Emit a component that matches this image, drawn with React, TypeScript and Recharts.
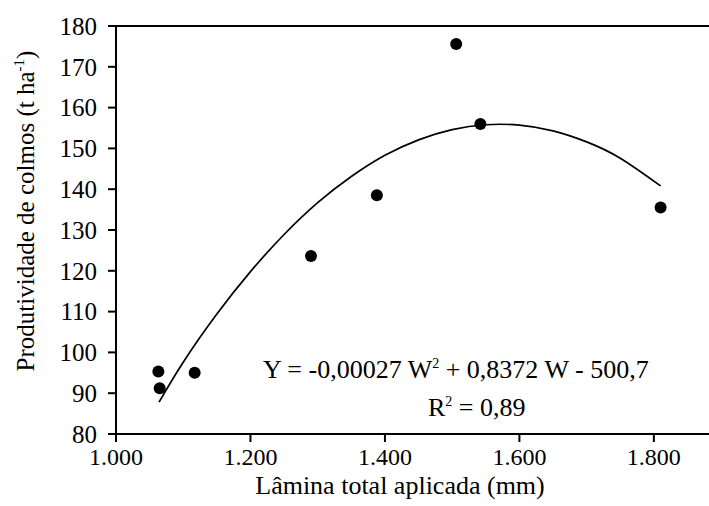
import React from 'react';
import { ComposedChart, Line, Scatter, XAxis, YAxis, ReferenceLine } from 'recharts';

// Observed points: Lâmina total aplicada (mm) vs Produtividade de colmos (t ha-1)
const obsLamina = [1063, 1065, 1117, 1290, 1388, 1506, 1542, 1810];
const obsProd = [95.3, 91.2, 95.0, 123.6, 138.5, 175.6, 156.0, 135.5];

// Fitted curve
const fitLamina = [1064, 1100, 1150, 1200, 1250, 1300, 1350, 1400, 1450, 1500, 1550, 1600, 1650, 1700, 1750, 1810];
const fitProd = [87.8, 97.6, 109.4, 119.8, 128.9, 136.7, 143.1, 148.3, 152.1, 154.6, 155.8, 155.7, 154.3, 151.6, 147.6, 140.8];

const xTicks = [1000, 1200, 1400, 1600, 1800];
const xTickLabels = ['1.000', '1.200', '1.400', '1.600', '1.800'];
const yTicks = [80, 90, 100, 110, 120, 130, 140, 150, 160, 170, 180];

const xLabel = 'Lâmina total aplicada (mm)';
const yLabel = 'Produtividade de colmos (t ha';
const eqLeft = 'Y = -0,00027 W';
const eqRight = ' + 0,8372 W - 500,7';
const r2Text = ' = 0,89';

const curveData = fitLamina.map((x, i) => ({ x, y: fitProd[i] }));
const pointData = obsLamina.map((x, i) => ({ x, y: obsProd[i] }));

const FONT = '"Liberation Serif", "Times New Roman", serif';

export default function App() {
  const tickStyle = { fontFamily: FONT, fontSize: 25, fill: '#000' };
  const xTickStyle = { fontFamily: FONT, fontSize: 24, fill: '#000' };
  return (
    <div style={{ position: 'absolute', left: 0, top: 0, width: 709, height: 506, background: '#fff' }}>
      <ComposedChart
        width={709}
        height={506}
        data={curveData}
        margin={{ top: 26, right: 0, bottom: 0, left: 0 }}
      >
        <XAxis
          dataKey="x"
          type="number"
          domain={[1000, 1882]}
          ticks={xTicks}
          tickFormatter={(v: number) => xTickLabels[xTicks.indexOf(v)] ?? String(v)}
          height={72}
          tick={xTickStyle}
          tickSize={8}
          tickMargin={6}
          stroke="#000"
          strokeWidth={2}
          allowDataOverflow
        />
        <YAxis
          type="number"
          domain={[80, 180]}
          ticks={yTicks}
          width={116}
          tick={tickStyle}
          tickSize={8}
          tickMargin={11}
          stroke="#000"
          strokeWidth={2}
          allowDataOverflow
        />
        <ReferenceLine y={180} stroke="#000" strokeWidth={2} />
        <Line
          dataKey="y"
          type="natural"
          stroke="#000"
          strokeWidth={1.7}
          dot={false}
          activeDot={false}
          isAnimationActive={false}
        />
        <Scatter
          data={pointData}
          dataKey="y"
          fill="#000"
          isAnimationActive={false}
          shape={(p: any) => <circle cx={p.cx} cy={p.cy} r={6} fill="#000" />}
        />
      </ComposedChart>
      <svg
        width={709}
        height={506}
        style={{ position: 'absolute', left: 0, top: 0, pointerEvents: 'none' }}
      >
        <text x={400} y={494} textAnchor="middle" fontFamily={FONT} fontSize={26} fill="#000">
          {xLabel}
        </text>
        <text
          x={34}
          y={211}
          textAnchor="middle"
          fontFamily={FONT}
          fontSize={25}
          fill="#000"
          transform="rotate(-90, 34, 211)"
        >
          {yLabel}
          <tspan fontSize={15} dy={-10}>-1</tspan>
          <tspan dy={10}>)</tspan>
        </text>
        <text x={263} y={378} fontFamily={FONT} fontSize={26} fill="#000">
          {eqLeft}
          <tspan fontSize={14} dy={-10}>2</tspan>
          <tspan dy={10}>{eqRight}</tspan>
        </text>
        <text x={428} y={416} fontFamily={FONT} fontSize={26} fill="#000">
          R
          <tspan fontSize={14} dy={-10}>2</tspan>
          <tspan dy={10}>{r2Text}</tspan>
        </text>
      </svg>
    </div>
  );
}
